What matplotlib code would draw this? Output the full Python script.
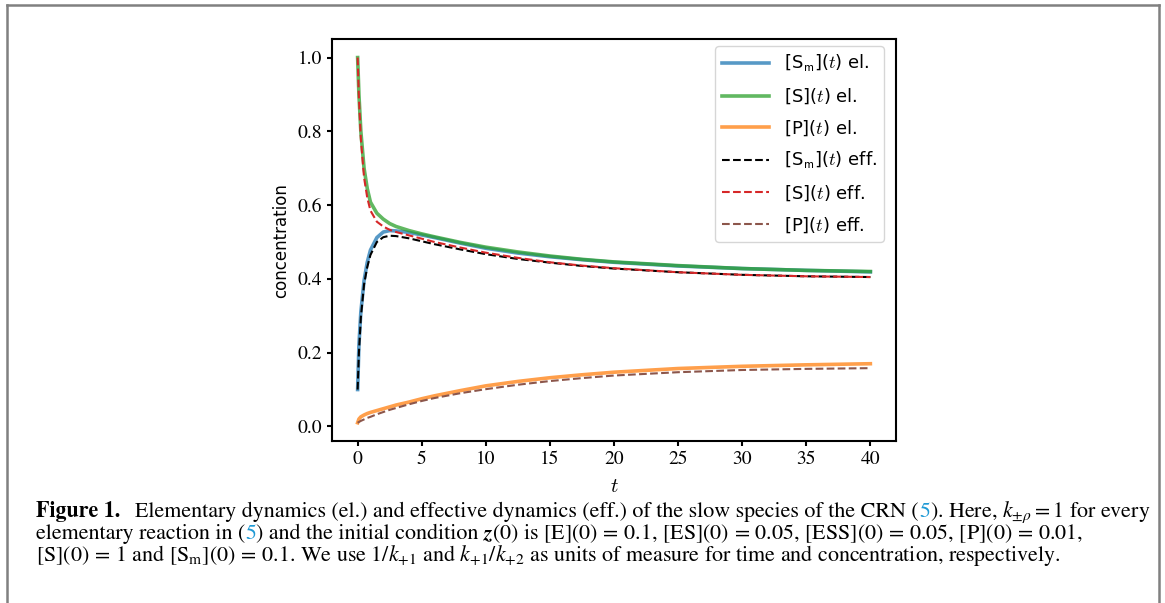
import matplotlib
matplotlib.use('Agg')
import matplotlib.pyplot as plt
from matplotlib.lines import Line2D
from matplotlib.font_manager import FontProperties

# values
t = [0, 0.1, 0.25, 0.5, 0.75, 1, 1.5, 2, 2.5, 3, 4, 5, 6, 8, 10,
     12.5, 15, 17.5, 20, 25, 30, 35, 40]
sm_el = [0.1, 0.22, 0.31, 0.395, 0.445, 0.478, 0.512, 0.527, 0.531, 0.530, 0.526,
         0.519, 0.512, 0.497, 0.483, 0.470, 0.460, 0.452, 0.445, 0.435, 0.428, 0.423, 0.419]
s_el = [1.0, 0.90, 0.80, 0.70, 0.645, 0.608, 0.578, 0.562, 0.550, 0.542, 0.531,
        0.522, 0.514, 0.499, 0.486, 0.473, 0.462, 0.453, 0.446, 0.436, 0.428, 0.423, 0.420]
p_el = [0.01, 0.02, 0.026, 0.031, 0.035, 0.038, 0.043, 0.048, 0.053, 0.058, 0.066,
        0.075, 0.083, 0.097, 0.11, 0.122, 0.132, 0.14, 0.147, 0.157, 0.163, 0.167, 0.17]
sm_eff = [0.1, 0.20, 0.295, 0.385, 0.432, 0.465, 0.500, 0.513, 0.517, 0.516, 0.510,
          0.502, 0.494, 0.480, 0.467, 0.454, 0.444, 0.435, 0.428, 0.418, 0.411, 0.407, 0.405]
s_eff = [1.0, 0.89, 0.78, 0.675, 0.62, 0.585, 0.555, 0.542, 0.533, 0.527, 0.518,
         0.509, 0.500, 0.485, 0.471, 0.457, 0.445, 0.436, 0.429, 0.418, 0.411, 0.407, 0.405]
p_eff = [0.01, 0.012, 0.015, 0.019, 0.023, 0.026, 0.033, 0.039, 0.045, 0.05, 0.06,
         0.069, 0.077, 0.09, 0.101, 0.113, 0.123, 0.131, 0.138, 0.147, 0.153, 0.156, 0.158]

labels = [r'[S$_\mathsf{m}$]($t$) el.', r'[S]($t$) el.', r'[P]($t$) el.',
          r'[S$_\mathsf{m}$]($t$) eff.', r'[S]($t$) eff.', r'[P]($t$) eff.']

W, H = 1165, 603
fig = plt.figure(figsize=(W / 100, H / 100), dpi=100)
ax = fig.add_axes([332 / W, 1 - 441 / H, (896 - 332) / W, (441 - 39.3) / H])

ax.plot(t, sm_el, color='tab:blue', alpha=0.75, lw=2.6, label=labels[0])
ax.plot(t, s_el, color='tab:green', alpha=0.75, lw=2.6, label=labels[1])
ax.plot(t, p_el, color='tab:orange', alpha=0.75, lw=2.6, label=labels[2])
ax.plot(t, sm_eff, color='k', ls='--', lw=1.5, label=labels[3])
ax.plot(t, s_eff, color='tab:red', ls='--', lw=1.5, label=labels[4])
ax.plot(t, p_eff, color='tab:brown', ls='--', lw=1.5, label=labels[5])

ax.set_xticks(range(0, 41, 5))
ax.set_yticks([0.0, 0.2, 0.4, 0.6, 0.8, 1.0])
ax.set_yticklabels(['0.0', '0.2', '0.4', '0.6', '0.8', '1.0'])
for lab in ax.get_xticklabels() + ax.get_yticklabels():
    lab.set_fontfamily('STIXGeneral')
    lab.set_fontsize(14)
for sp in ax.spines.values():
    sp.set_linewidth(1.5)
ax.tick_params(width=1.5, length=3.5)

ax.set_ylabel('concentration', fontsize=12, family='DejaVu Sans')
ax.yaxis.set_label_coords((290 - 332) / (896 - 332), 0.5)
ax.set_xlabel('$t$', fontsize=15, math_fontfamily='cm')
ax.xaxis.set_label_coords(0.5, (441 - 476) / (441 - 39.3))

leg_font = FontProperties(family='DejaVu Sans', size=13, math_fontfamily='cm')
ax.legend(prop=leg_font, loc='upper right', bbox_to_anchor=(884 / W, 1 - 46 / H),
          bbox_transform=fig.transFigure, borderaxespad=0, handlelength=2.6,
          labelspacing=0.68, borderpad=0.4)

# grey frame around figure + caption
grey = '#808080'
fig.add_artist(Line2D([7 / W, 7 / W], [0, 1 - 5 / H], color=grey, lw=1.8,
                      transform=fig.transFigure))
fig.add_artist(Line2D([1159 / W, 1159 / W], [0, 1 - 5 / H], color=grey, lw=1.8,
                      transform=fig.transFigure))
fig.add_artist(Line2D([7 / W, 1159 / W], [1 - 5 / H, 1 - 5 / H], color=grey, lw=1.8,
                      transform=fig.transFigure))

# caption, written piece by piece so the reference numbers can be blue
link = '#1f9ad6'
cap_size = 15.85
base = dict(family='STIXGeneral', fontsize=cap_size, math_fontfamily='stix')
caption = [
    (512, [('Figure 1.', dict(weight='bold'), 15),
           ('Elementary dynamics (el.) and effective dynamics (eff.) of the slow species of the CRN (', {}, 0),
           ('5', dict(color=link), 0),
           (r'). Here, $k_{\pm\rho}=1$ for every', {}, 0)]),
    (534, [('elementary reaction in (', {}, 0),
           ('5', dict(color=link), 0),
           (') and the initial condition', {}, 5),
           ('z', dict(weight='bold', style='italic'), 0),
           (r'(0) is [E](0)$\,=\,$0.1, [ES](0)$\,=\,$0.05, [ESS](0)$\,=\,$0.05, [P](0)$\,=\,$0.01,', {}, 0)]),
    (556, [(r'[S](0)$\,=\,$1 and [S$_\mathrm{m}$](0)$\,=\,$0.1. We use $1/k_{+1}$ and '
            r'$k_{+1}/k_{+2}$ as units of measure for time and concentration, respectively.', {}, 0)]),
]
renderer = fig.canvas.get_renderer()
for ypix, pieces in caption:
    x = 36
    for s, kw, gap in pieces:
        opts = dict(base)
        opts.update(kw)
        txt = fig.text(x / W, 1 - ypix / H, s, va='center', ha='left', **opts)
        bb = txt.get_window_extent(renderer)
        x += bb.width + gap

fig.savefig('out.png', dpi=100)
